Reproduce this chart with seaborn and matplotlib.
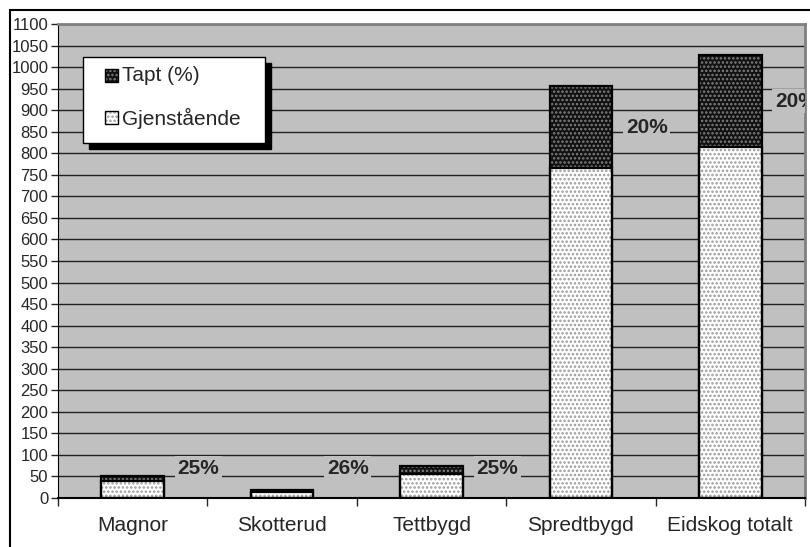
import numpy as np
import matplotlib
matplotlib.use("Agg")
import matplotlib.pyplot as plt
import seaborn as sns
from matplotlib.patches import Rectangle

# Data
kategorier = ["Magnor", "Skotterud", "Tettbygd", "Spredtbygd", "Eidskog totalt"]
gjenstaende = [39, 14, 56, 765, 815]
tapt = [13, 5, 18, 191, 212]
prosent = ["25%", "26%", "25%", "20%", "20%"]

totalt = [g + t for g, t in zip(gjenstaende, tapt)]

sns.set_style("white")
plt.rcParams["font.family"] = ["Liberation Sans", "DejaVu Sans"]
plt.rcParams["hatch.linewidth"] = 1.2

fig = plt.figure(figsize=(8.1, 5.47), dpi=100)
ax = fig.add_axes([58 / 810, 49 / 547, 747 / 810, 474 / 547])
ax.set_facecolor("#c0c0c0")

# Outer frame of the chart
fig.patches.append(Rectangle((10 / 810, -0.02), 1.0, 1.0 - 10 / 547 + 0.02,
                             transform=fig.transFigure, fill=False,
                             edgecolor="black", linewidth=1.5, zorder=0))

bredde = 0.42
# stacked bars: total (tapt on top) then remaining
sns.barplot(x=kategorier, y=totalt, color="#111111", width=bredde,
            saturation=1, ax=ax, zorder=3)
n = len(kategorier)
for p in ax.patches[:n]:
    p.set_hatch("....")
    p.set_edgecolor("#808080")
    p.set_linewidth(0)
sns.barplot(x=kategorier, y=gjenstaende, color="white", width=bredde,
            saturation=1, ax=ax, zorder=3)
for p in ax.patches[n:2 * n]:
    p.set_hatch("....")
    p.set_edgecolor("#9a9a9a")
    p.set_linewidth(0)
# outlines
sns.barplot(x=kategorier, y=totalt, fill=False, color="black", width=bredde,
            linewidth=1.6, ax=ax, zorder=4)
sns.barplot(x=kategorier, y=gjenstaende, fill=False, color="black",
            width=bredde, linewidth=1.6, ax=ax, zorder=4)

# percentage labels to the right of each bar
for i, (g, t, txt) in enumerate(zip(gjenstaende, tapt, prosent)):
    y = max(g + t / 2, 68)
    ax.text(i + 0.44, y, txt, ha="center", va="center", fontsize=15,
            fontweight="bold", zorder=5, clip_on=True,
            bbox=dict(facecolor="#c0c0c0", edgecolor="none", pad=2))

ax.set_ylim(0, 1100)
ax.set_xlim(-0.5, n - 0.5)
ax.set_yticks(np.arange(0, 1101, 50))
ax.yaxis.grid(True, color="#202020", linewidth=1)
ax.set_axisbelow(True)

ax.set_xticks(range(n))
ax.set_xticklabels(kategorier, fontsize=15)
ax.tick_params(axis="x", length=0, pad=13)
ax.tick_params(axis="y", labelsize=12, length=5, width=1, direction="out",
               left=True, pad=2)
# separator ticks between categories
ax.set_xticks(np.arange(-0.5, n, 1), minor=True)
ax.tick_params(axis="x", which="minor", length=6, width=1, direction="out",
               bottom=True)

for side in ["top", "right"]:
    ax.spines[side].set_color("#808080")
    ax.spines[side].set_linewidth(2)
ax.spines["left"].set_color("black")
ax.spines["bottom"].set_color("black")
ax.spines["bottom"].set_linewidth(1.5)
ax.set_xlabel("")

# Legend box with shadow
leg_x, leg_y, leg_w, leg_h = 83 / 810, 1 - 143 / 547, 182 / 810, 86 / 547
fig.patches.append(Rectangle((leg_x + 6 / 810, leg_y - 6 / 547), leg_w, leg_h,
                             transform=fig.transFigure, facecolor="black",
                             edgecolor="black", zorder=6))
fig.patches.append(Rectangle((leg_x, leg_y), leg_w, leg_h,
                             transform=fig.transFigure, facecolor="white",
                             edgecolor="black", linewidth=1, zorder=7))
for k, (navn, fc, hc) in enumerate([("Tapt (%)", "#111111", "#808080"),
                                     ("Gjenstående", "white", "#9a9a9a")]):
    cy = 1 - (76 + k * 42) / 547
    fig.patches.append(Rectangle((105 / 810, cy - 6 / 547), 13 / 810, 13 / 547,
                                 transform=fig.transFigure, facecolor=fc,
                                 edgecolor=hc, hatch="....", linewidth=0,
                                 zorder=8))
    fig.patches.append(Rectangle((105 / 810, cy - 6 / 547), 13 / 810, 13 / 547,
                                 transform=fig.transFigure, fill=False,
                                 edgecolor="black", linewidth=1, zorder=9))
    fig.text(122 / 810, cy, navn, fontsize=15, va="center", ha="left",
             zorder=9)

fig.savefig("out.png", dpi=100)
